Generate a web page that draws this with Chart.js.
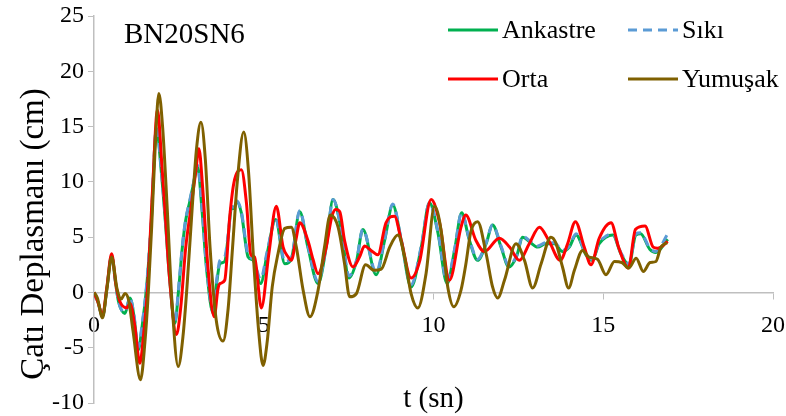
<!DOCTYPE html>
<html>
<head>
<meta charset="utf-8">
<script src="https://cdn.jsdelivr.net/npm/chart.js@4.4.1/dist/chart.umd.min.js"></script>
<style>
  html, body { margin: 0; padding: 0; background: #ffffff; }
</style>
</head>
<body>
<canvas id="cati-grafik" width="786" height="416"></canvas>
<script>
    // zaman (sn) ve çatı deplasmanı (cm)
    const tAnkastre = [0, 0.12, 0.25, 0.38, 0.52, 0.63, 0.72, 0.91, 1.06, 1.18, 1.30, 1.42, 1.55, 1.68, 1.84, 1.98, 2.1, 2.22, 2.38, 2.5,
        2.6, 2.7, 2.82, 2.93, 3.05, 3.18, 3.31, 3.51, 3.62, 3.71, 3.85, 3.95, 4.05, 4.12, 4.2, 4.34, 4.54, 4.69, 4.91, 5.1,
        5.35, 5.62, 5.81, 6.06, 6.3, 6.6, 6.84, 7.04, 7.28, 7.51, 7.73, 7.92, 8.31, 8.56, 8.8, 9.05, 9.34, 9.64, 9.88, 10.13,
        10.4, 10.62, 10.83, 11.05, 11.3, 11.55, 11.74, 11.99, 12.22, 12.44, 12.63, 12.82, 13.07, 13.31, 13.56, 13.8, 14.0, 14.2, 14.49, 14.67,
        14.88, 15.08, 15.28, 15.52, 15.76, 15.96, 16.1, 16.37, 16.55, 16.9];
    const ankastre = [0, -0.9, -2.2, 0.4, 3.3, 1.0, -0.8, -1.9, -0.5, -2.2, -5.2, -3.0, 0.5, 6.0, 14.8, 11.0, 6.5, 1.5, -2.8, 0.5,
        4.0, 6.5, 8.2, 9.8, 11.4, 7.5, 2.3, -1.9, 1.0, 2.6, 2.8, 5.0, 7.6, 7.6, 8.2, 7.2, 3.2, 2.9, 0.8, 3.5,
        6.6, 2.6, 3.0, 7.3, 4.1, 0.8, 4.1, 8.4, 5.7, 1.3, 2.8, 5.7, 1.6, 4.7, 7.9, 4.7, 0.5, 4.1, 8.1, 5.4,
        0.8, 3.8, 7.2, 4.8, 2.9, 4.4, 6.1, 4.1, 2.3, 3.2, 5.0, 4.6, 4.1, 4.4, 4.4, 3.7, 4.1, 5.2, 3.4, 2.9,
        4.4, 5.0, 5.2, 3.5, 2.5, 5.2, 5.3, 3.9, 3.6, 4.8];
    // Sıkı zemin aynı zaman adımlarını kullanıyor
    const siki = [0, -0.9, -2.2, 0.4, 3.3, 1.0, -0.8, -1.8, -0.5, -2.1, -5.0, -2.8, 0.7, 6.2, 14.9, 11.2, 6.7, 1.7, -2.6, 0.7,
        4.2, 6.6, 8.3, 9.9, 11.5, 7.8, 2.5, -1.6, 1.3, 2.9, 3.2, 5.2, 7.8, 7.7, 8.3, 7.3, 3.4, 3.0, 1.2, 3.7,
        6.7, 2.8, 3.1, 7.4, 4.2, 1.0, 4.2, 8.4, 5.8, 1.5, 2.9, 5.7, 1.8, 4.8, 8.0, 4.8, 0.7, 4.2, 8.1, 5.5,
        1.0, 3.9, 7.2, 4.9, 3.0, 4.5, 6.1, 4.2, 2.4, 3.3, 5.1, 4.7, 4.2, 4.5, 4.5, 3.8, 4.2, 5.3, 3.5, 3.0,
        4.5, 5.1, 5.3, 3.6, 2.6, 5.3, 5.4, 4.0, 3.7, 5.3];
    const tOrta = [0, 0.12, 0.25, 0.38, 0.52, 0.65, 0.76, 0.96, 1.06, 1.2, 1.35, 1.47, 1.58, 1.72, 1.87, 2.0, 2.1, 2.22, 2.43, 2.55,
        2.7, 2.85, 3.0, 3.09, 3.2, 3.35, 3.54, 3.65, 3.71, 3.85, 4.0, 4.12, 4.34, 4.49, 4.62, 4.73, 4.93, 5.15, 5.37, 5.57,
        5.72, 5.81, 5.95, 6.06, 6.3, 6.45, 6.6, 6.84, 7.0, 7.12, 7.24, 7.38, 7.63, 7.82, 7.97, 8.16, 8.36, 8.6, 8.85, 9.05,
        9.34, 9.59, 9.93, 10.18, 10.47, 10.81, 10.95, 11.25, 11.5, 11.94, 12.24, 12.53, 12.82, 13.12, 13.41, 13.73, 13.95, 14.18, 14.44, 14.64,
        14.88, 15.23, 15.45, 15.74, 15.95, 16.23, 16.47, 16.6, 16.9];
    const orta = [0, -0.9, -2.1, 0.5, 3.5, 0.6, -0.8, -1.4, -1.0, -3.0, -6.4, -3.5, 0.5, 9.0, 16.5, 11.5, 7.0, 1.5, -3.8, -1.5,
        4.0, 7.5, 11.0, 13.0, 9.5, 2.5, -2.2, 0.3, 0.8, 1.1, 6.9, 9.9, 11.1, 8.1, 3.4, 3.2, -1.4, 3.5, 7.8, 4.1,
        3.2, 2.9, 4.8, 6.3, 4.7, 3.0, 1.7, 4.1, 6.8, 7.5, 7.3, 4.7, 2.3, 3.2, 4.2, 3.8, 3.4, 6.3, 6.9, 4.7,
        1.3, 2.8, 8.4, 6.3, 1.1, 5.9, 7.0, 4.7, 3.7, 4.9, 4.1, 2.9, 4.4, 5.9, 4.6, 2.9, 4.4, 6.4, 4.1, 2.5,
        4.9, 6.3, 4.1, 2.2, 5.7, 6.0, 4.1, 4.0, 4.6];
    const tYumusak = [0, 0.1, 0.25, 0.38, 0.52, 0.68, 0.8, 0.91, 1.02, 1.15, 1.37, 1.5, 1.6, 1.7, 1.8, 1.91, 2.02, 2.15, 2.3, 2.48,
        2.62, 2.75, 2.9, 3.02, 3.15, 3.28, 3.42, 3.6, 3.8, 3.95, 4.08, 4.22, 4.41, 4.55, 4.7, 4.85, 4.98, 5.1, 5.25, 5.42,
        5.62, 5.81, 5.96, 6.16, 6.36, 6.6, 6.79, 6.96, 7.19, 7.38, 7.53, 7.73, 8.0, 8.26, 8.46, 8.71, 8.95, 9.15, 9.34, 9.54,
        9.78, 10.03, 10.22, 10.42, 10.6, 10.81, 10.95, 11.1, 11.3, 11.55, 11.74, 11.89, 12.09, 12.43, 12.68, 12.92, 13.17, 13.46, 13.6, 13.8,
        13.98, 14.15, 14.39, 14.58, 14.83, 15.08, 15.33, 15.55, 15.75, 15.97, 16.18, 16.38, 16.55, 16.7, 16.88];
    const yumusak = [0, -0.5, -2.3, 0.3, 3.2, 0.3, -0.6, -0.1, -0.7, -3.5, -7.9, -4.5, 0, 6, 13, 18.0, 15, 8, -1, -6.7,
        -4, 1, 8, 13, 15.4, 12, 4, -2.5, -4.4, -1.5, 4, 10, 14.5, 11, 3, -3.5, -6.6, -4.5, 0.5, 3.5,
        5.8, 5.9, 4.1, 0.2, -2.2, 0.2, 4.1, 7.0, 5.9, 2.6, -0.4, -0.1, 2.5, 2.0, 2.1, 4.1, 5.2, 3.2, -0.1, -1.4,
        1.7, 7.8, 5.7, 0.5, -1.3, 0.2, 2.5, 5.5, 6.4, 3.5, 0.5, -0.5, 1.1, 4.4, 2.9, 0.4, 2.6, 5.0, 4.5, 2.3,
        0.4, 2.0, 3.8, 3.2, 3.0, 1.6, 2.8, 2.7, 2.2, 3.1, 1.9, 2.7, 2.8, 4.1, 4.5];

    const seriesNames = ['Ankastre', 'Sıkı', 'Orta', 'Yumuşak'];
    const xTicks = [0, 5, 10, 15, 20];
    const yTicks = [-10, -5, 0, 5, 10, 15, 20, 25];

    const serif = 'Liberation Serif';
    const toPoints = (t, v) => t.map((x, i) => ({ x: x, y: v[i] }));

    // 2x2 lejant, model adı ve eksen başlıkları elle çiziliyor
    const legendSpots = [
        { x: 448, y: 30 }, { x: 628, y: 30 },
        { x: 448, y: 79 }, { x: 628, y: 79 }
    ];
    const extraText = {
        id: 'extraText',
        afterDraw(chart) {
            const ctx = chart.ctx;
            const a = chart.chartArea;
            ctx.save();
            ctx.fillStyle = '#000';
            ctx.textBaseline = 'middle';
            ctx.textAlign = 'left';
            ctx.font = '29px "' + serif + '"';
            ctx.fillText('BN20SN6', 124, 35);

            ctx.font = '26px "' + serif + '"';
            chart.data.datasets.forEach((ds, i) => {
                const p = legendSpots[i];
                ctx.beginPath();
                ctx.strokeStyle = ds.borderColor;
                ctx.lineWidth = 3;
                ctx.setLineDash(ds.borderDash || []);
                ctx.moveTo(p.x, p.y);
                ctx.lineTo(p.x + 50, p.y);
                ctx.stroke();
                ctx.setLineDash([]);
                ctx.fillText(ds.label, p.x + 54, p.y + 1);
            });

            ctx.textAlign = 'center';
            ctx.font = '29px "' + serif + '"';
            ctx.fillText('t (sn)', (a.left + a.right) / 2, 399);

            ctx.translate(34, 234);
            ctx.rotate(-Math.PI / 2);
            ctx.font = '33px "' + serif + '"';
            ctx.fillText('Çatı Deplasmanı (cm)', 0, 0);
            ctx.restore();
        }
    };

    // eksen etiketlerinin taşma payını sıfırla, alanı layout.padding belirlesin
    const noOverflow = s => { s.paddingTop = 0; s.paddingBottom = 0; s.paddingLeft = 0; s.paddingRight = 0; };

    const ctx = document.getElementById('cati-grafik').getContext('2d');
    new Chart(ctx, {
        type: 'line',
        data: {
            datasets: [
                { label: seriesNames[0], data: toPoints(tAnkastre, ankastre), borderColor: '#00B050', order: 4 },
                { label: seriesNames[1], data: toPoints(tAnkastre, siki), borderColor: '#5B9BD5', borderDash: [9, 6], order: 3 },
                { label: seriesNames[2], data: toPoints(tOrta, orta), borderColor: '#FF0000', order: 2 },
                { label: seriesNames[3], data: toPoints(tYumusak, yumusak), borderColor: '#7F6000', order: 1 }
            ]
        },
        options: {
            responsive: false,
            animation: false,
            layout: { padding: { top: 16, right: 13, bottom: 13, left: 0 } },
            elements: {
                point: { radius: 0 },
                line: { borderWidth: 3, tension: 0.4, cubicInterpolationMode: 'monotone', fill: false }
            },
            plugins: {
                legend: { display: false },
                tooltip: { enabled: false }
            },
            scales: {
                x: {
                    type: 'linear',
                    position: { y: 0 },
                    min: 0,
                    max: 20,
                    afterBuildTicks: s => { s.ticks = xTicks.map(v => ({ value: v })); },
                    afterFit: noOverflow,
                    border: { color: '#bfbfbf', width: 1.5 },
                    grid: { drawOnChartArea: false, drawTicks: true, tickLength: 6, color: '#bfbfbf' },
                    ticks: { color: '#000', padding: 13, maxRotation: 0, font: { family: serif, size: 24 } }
                },
                y: {
                    min: -10,
                    max: 25,
                    afterBuildTicks: s => { s.ticks = yTicks.map(v => ({ value: v })); },
                    afterFit: s => { s.width = 94; noOverflow(s); },
                    border: { color: '#bfbfbf', width: 1.5 },
                    grid: { drawOnChartArea: false, drawTicks: true, tickLength: 6, color: '#bfbfbf' },
                    ticks: { color: '#000', padding: 4, font: { family: serif, size: 24 } }
                }
            }
        },
        plugins: [extraText]
    });
</script>
</body>
</html>
